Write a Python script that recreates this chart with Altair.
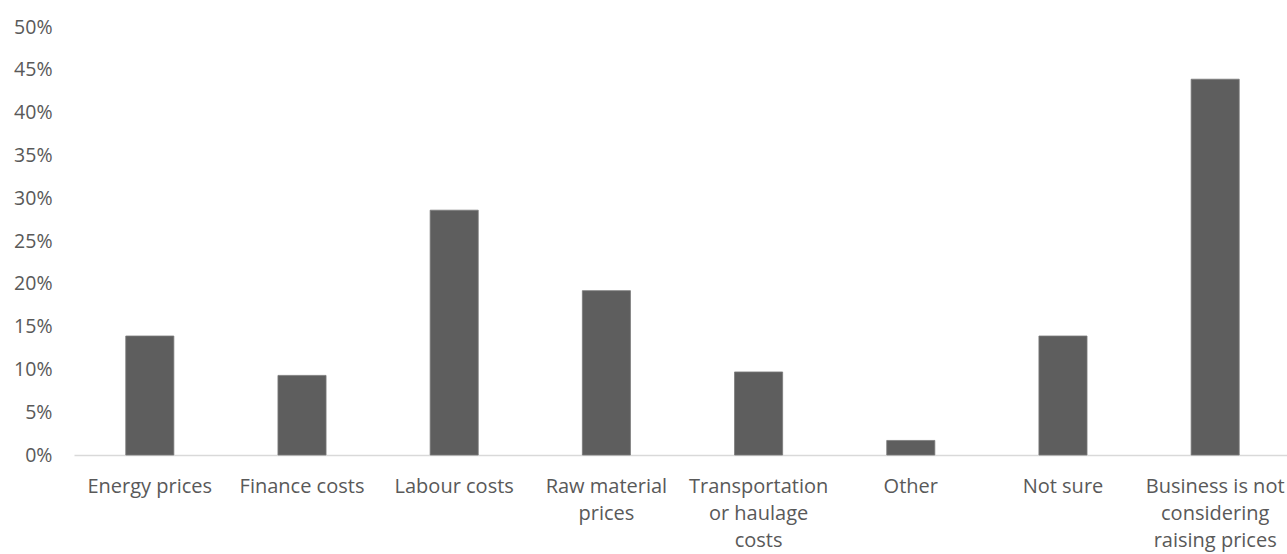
import altair as alt
import pandas as pd

# Reasons businesses give for raising prices (share of respondents, %)
categories = [
    "Energy prices",
    "Finance costs",
    "Labour costs",
    "Raw material prices",
    "Transportation or haulage costs",
    "Other",
    "Not sure",
    "Business is not considering raising prices",
]
label_lines = [
    ["Energy prices"],
    ["Finance costs"],
    ["Labour costs"],
    ["Raw material", "prices"],
    ["Transportation", "or haulage", "costs"],
    ["Other"],
    ["Not sure"],
    ["Business is not", "considering", "raising prices"],
]
shares = [13.9, 9.3, 28.6, 19.2, 9.7, 1.7, 13.9, 43.9]

df = pd.DataFrame({"category": categories, "share": [v / 100 for v in shares]})

# Vega expression that maps each category to its wrapped label lines
label_expr = "{" + ", ".join(
    '"{}": [{}]'.format(c, ", ".join('"{}"'.format(s) for s in lines))
    for c, lines in zip(categories, label_lines)
) + "}[datum.value]"

FONT = "Open Sans"
TEXT = "#595959"

chart = (
    alt.Chart(df)
    .mark_bar(color="#5e5e5e", stroke="#7a7a7a", strokeWidth=0.8)
    .encode(
        x=alt.X(
            "category:N",
            sort=categories,
            scale=alt.Scale(paddingInner=0.684, paddingOuter=0.327, align=0.52),
            axis=alt.Axis(
                title=None,
                labelAngle=0,
                labelExpr=label_expr,
                labelFont=FONT,
                labelFontSize=20,
                labelColor=TEXT,
                labelPadding=21,
                labelLineHeight=27,
                labelBaseline="top",
                ticks=False,
                domainColor="#d9d9d9",
                domainWidth=1.5,
                grid=False,
            ),
        ),
        y=alt.Y(
            "share:Q",
            scale=alt.Scale(domain=[0, 0.5], nice=False),
            axis=alt.Axis(
                title=None,
                format=".0%",
                values=[i * 0.05 for i in range(11)],
                labelFont=FONT,
                labelFontSize=19.5,
                labelColor=TEXT,
                labelPadding=22,
                ticks=False,
                domain=False,
                grid=False,
            ),
        ),
    )
    .properties(
        width=1213,
        height=428,
        background="white",
        autosize=alt.AutoSizeParams(type="none"),
        padding={"left": 74, "top": 27, "right": 0, "bottom": 99},
    )
    .configure_view(strokeWidth=0, stroke="transparent")
)

chart.save("out.html", embed_options={"renderer": "svg", "actions": False})
